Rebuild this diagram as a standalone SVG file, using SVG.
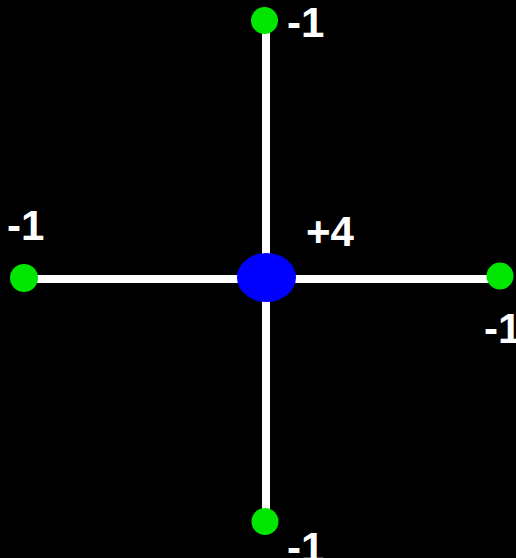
<svg xmlns="http://www.w3.org/2000/svg" width="516" height="558" viewBox="0 0 516 558">
<style>
.edge{stroke:#ffffff;stroke-width:8;fill:none}
.leaf{fill:#00e600}
.lbl{font-family:"Liberation Sans",Arial,sans-serif;font-weight:bold;font-size:42px;fill:#ffffff}
</style>
<rect width="516" height="558" fill="#000000"/>
<g id="connectors">
<line class="edge" x1="266" y1="21" x2="266" y2="521"/>
<line class="edge" x1="24" y1="279" x2="500" y2="279"/>
</g>
<g id="node-top"><circle class="leaf" cx="264.5" cy="20.5" r="13.5"/><text class="lbl" x="287" y="37">-1</text></g>
<g id="node-left"><circle class="leaf" cx="24" cy="278" r="14"/><text class="lbl" x="7" y="240">-1</text></g>
<g id="node-right"><circle class="leaf" cx="500" cy="276" r="13.5"/><text class="lbl" x="484" y="343">-1</text></g>
<g id="node-bottom"><circle class="leaf" cx="265" cy="521.5" r="13.5"/><text class="lbl" x="287" y="562">-1</text></g>
<g id="node-center"><ellipse cx="266.5" cy="277.5" rx="29.5" ry="24.5" fill="#0000ff"/><text class="lbl" x="306" y="246">+4</text></g>
</svg>
